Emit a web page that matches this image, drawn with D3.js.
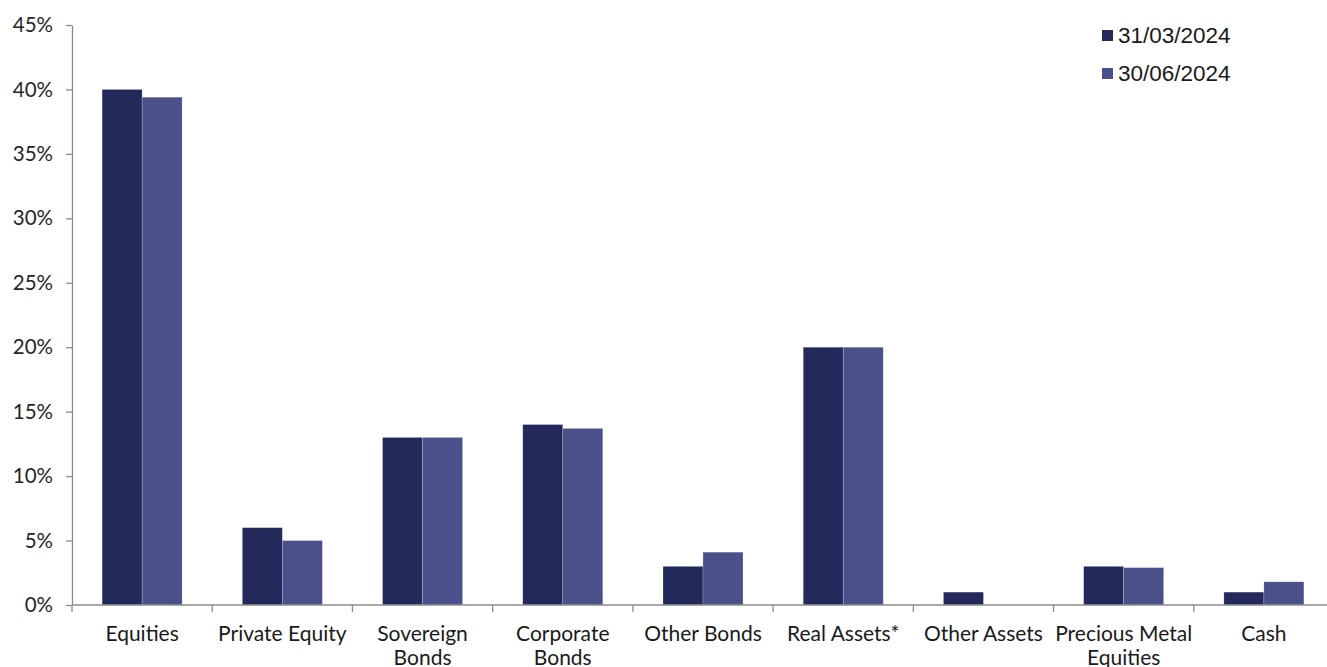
<!DOCTYPE html>
<html>
<head>
<meta charset="utf-8">
<script src="https://cdn.jsdelivr.net/npm/d3@7"></script>
<style>
  body { margin: 0; background: #fff; overflow: hidden; }
</style>
</head>
<body>
<svg id="chart"></svg>
<script>
// category names (line breaks as in the source chart)
const categories = ["Equities", "Private Equity", "Sovereign\nBonds", "Corporate\nBonds", "Other Bonds",
  "Real Assets*", "Other Assets", "Precious Metal\nEquities", "Cash"];
const seriesNames = ["31/03/2024", "30/06/2024"];
const march = [40, 6, 13, 14, 3, 20, 1, 3, 1];
const june = [39.4, 5, 13, 13.7, 4.1, 20, 0, 2.9, 1.8];
const yTicks = [0, 5, 10, 15, 20, 25, 30, 35, 40, 45];

let width = 1327
let height = 667
let marginLeft = 72 // y-axis position
let axisRight = 1334 // the x-axis runs off the right edge
let y0 = 605 // zero line
let yTop = 25 // 45% line
let colors = ["#24295c", "#4a5089"];

const svg = d3.select("#chart")
    .attr("width", width)
    .attr("height", height);

const x = d3.scaleBand(d3.range(categories.length), [marginLeft, axisRight]);
const y = d3.scaleLinear([0, 45], [y0, yTop]);
const barW = 40;

// bars
const data = categories.map((c, i) => ({i, vals: [march[i], june[i]]}));
const groups = svg.append("g")
    .selectAll("g")
    .data(data)
    .join("g")
    .attr("transform", d => `translate(${x(d.i) + x.bandwidth() / 2 - barW},0)`);

groups.selectAll("rect")
    .data(d => d.vals.map((v, k) => ({v, k})).filter(e => e.v > 0))
    .join("rect")
    .attr("x", e => e.k * barW)
    .attr("y", e => y(e.v))
    .attr("width", barW)
    .attr("height", e => y(0) - y(e.v))
    .attr("fill", e => colors[e.k])
    .attr("stroke", "#ffffff")
    .attr("stroke-opacity", 0.35)
    .attr("stroke-width", 0.6);

// y axis
const yAxis = d3.axisLeft(y).tickValues(yTicks).tickSize(6).tickSizeOuter(0)
    .tickFormat(d => d + "%");
svg.append("g")
    .attr("transform", `translate(${marginLeft},0)`)
    .call(yAxis)
    .call(g => g.select(".domain").attr("stroke", "#8c8c8c").attr("stroke-width", 1.3))
    .call(g => g.selectAll(".tick line").attr("stroke", "#8c8c8c").attr("stroke-width", 1.3))
    .call(g => g.selectAll(".tick text")
        .attr("x", -19)
        .attr("fill", "#262626")
        .attr("font-family", "Lato, sans-serif")
        .attr("font-size", 20.5));

// x axis line with ticks at band edges
const xg = svg.append("g");
xg.append("line")
    .attr("x1", marginLeft).attr("x2", axisRight)
    .attr("y1", y0).attr("y2", y0)
    .attr("stroke", "#8c8c8c").attr("stroke-width", 1.5);
xg.selectAll("line.tk")
    .data(d3.range(categories.length + 1))
    .join("line")
    .attr("class", "tk")
    .attr("x1", i => marginLeft + i * x.step())
    .attr("x2", i => marginLeft + i * x.step())
    .attr("y1", y0).attr("y2", y0 + 7)
    .attr("stroke", "#8c8c8c").attr("stroke-width", 1.3);

xg.selectAll("text")
    .data(categories)
    .join("text")
    .attr("x", (c, i) => x(i) + x.bandwidth() / 2)
    .attr("y", 641)
    .attr("text-anchor", "middle")
    .attr("fill", "#1a1a1a")
    .attr("font-family", "Lato, sans-serif")
    .attr("font-size", 21)
    .each(function (c) {
        const t = d3.select(this);
        c.split("\n").forEach((line, k) => {
            t.append("tspan")
                .attr("x", t.attr("x"))
                .attr("dy", k === 0 ? 0 : 24)
                .text(line);
        });
    });

// legend
const legend = svg.append("g")
    .selectAll("g")
    .data(seriesNames)
    .join("g")
    .attr("transform", (d, i) => `translate(1102,${30 + i * 38})`);
legend.append("rect")
    .attr("width", 11).attr("height", 11)
    .attr("fill", (d, i) => colors[i]);
legend.append("text")
    .attr("x", 16)
    .attr("y", 13)
    .attr("fill", "#1a1a1a")
    .attr("font-family", "Liberation Sans, Arial, sans-serif")
    .attr("font-size", 22.5)
    .text(d => d);
</script>
</body>
</html>
